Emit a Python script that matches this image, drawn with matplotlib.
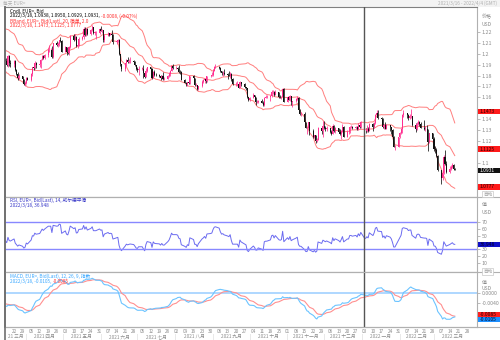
import numpy as np
import pandas as pd
import matplotlib
matplotlib.use('Agg')
import matplotlib.pyplot as plt
import matplotlib.dates as mdates
import matplotlib.transforms as mtransforms
from matplotlib.patches import Rectangle
from matplotlib.lines import Line2D

plt.rcParams['font.family'] = ['Noto Sans CJK SC', 'DejaVu Sans']

# EUR= 日收盘价, 以 1.0000 之后的点数记 (2250 -> 1.2250), 2021-01-04 .. 2022-03-18
close_pips = [
    # 2021 一月
    2250, 2295, 2325, 2270, 2220, 2150, 2210, 2160, 2155, 2080, 2075, 2130, 2105, 2165, 2170, 2140, 2160, 2110, 2120, 2135,
    # 2021 二月
    2060, 2040, 2035, 1965, 2045, 2050, 2120, 2120, 2130, 2120, 2130, 2105, 2040, 2090, 2120, 2155, 2150, 2165, 2175, 2075,
    # 2021 三月
    2050, 2090, 2065, 1965, 1915, 1847, 1900, 1928, 1985, 1952, 1930, 1900, 1977, 1915, 1905, 1935, 1850, 1815, 1780, 1795, 1765, 1720, 1730,
    # 2021 四月
    1780, 1762, 1812, 1875, 1870, 1915, 1900, 1910, 1945, 1980, 1965, 1985, 2035, 2035, 2035, 1970, 2095, 2085, 2090, 2125, 2120, 2020,
    # 2021 五月
    2060, 2015, 2005, 2065, 2165, 2130, 2150, 2075, 2080, 2140, 2150, 2225, 2175, 2225, 2180, 2215, 2250, 2195, 2195, 2195, 2225,
    # 2021 六月
    2210, 2215, 2125, 2165, 2190, 2175, 2180, 2175, 2105, 2120, 2125, 1995, 1905, 1860, 1915, 1940, 1925, 1930, 1935, 1925, 1895, 1858,
    # 2021 七月
    1850, 1865, 1865, 1825, 1790, 1845, 1875, 1860, 1775, 1835, 1810, 1805, 1800, 1780, 1795, 1770, 1770, 1800, 1815, 1845, 1885, 1870,
    # 2021 八月
    1870, 1865, 1835, 1830, 1760, 1735, 1720, 1740, 1730, 1795, 1775, 1710, 1710, 1675, 1700, 1745, 1755, 1770, 1750, 1795, 1800, 1805,
    # 2021 九月
    1845, 1875, 1880, 1870, 1840, 1820, 1825, 1815, 1805, 1800, 1815, 1765, 1725, 1725, 1725, 1690, 1740, 1720, 1695, 1685, 1600, 1580,
    # 2021 十月
    1595, 1620, 1600, 1555, 1555, 1570, 1550, 1530, 1595, 1600, 1600, 1610, 1645, 1650, 1625, 1645, 1605, 1600, 1605, 1680, 1560,
    # 2021 十一月
    1605, 1580, 1615, 1555, 1565, 1585, 1595, 1480, 1445, 1445, 1370, 1320, 1320, 1370, 1290, 1235, 1250, 1200, 1210, 1320, 1290, 1335,
    # 2021 十二月
    1320, 1305, 1315, 1285, 1265, 1340, 1290, 1315, 1285, 1260, 1290, 1330, 1240, 1280, 1280, 1330, 1330, 1320, 1330, 1310, 1350, 1325, 1370,
    # 2022 一月
    1295, 1290, 1310, 1295, 1360, 1325, 1365, 1440, 1455, 1410, 1405, 1325, 1345, 1310, 1345, 1325, 1300, 1240, 1145, 1145, 1235,
    # 2022 二月
    1270, 1305, 1440, 1455, 1440, 1415, 1425, 1425, 1350, 1305, 1360, 1370, 1360, 1320, 1310, 1310, 1305, 1190, 1270, 1220,
    # 2022 三月
    1125, 1120, 1065, 930, 855, 905, 1050, 985, 915, 945, 960, 975, 938, 931,
]

# 图上可见的蜡烛 (2021-03-15 起) 的最高价与最低价
high_pips = [
    1960, 1950, 1990, 1990, 1940, 1945, 1945, 1860, 1830, 1815, 1800, 1770, 1750,
    1790, 1790, 1820, 1880, 1900, 1930, 1925, 1915, 1950, 1990, 1990, 1995, 2050, 2080, 2050, 2070, 2100, 2115, 2105, 2130, 2150, 2130,
    2075, 2065, 2035, 2070, 2175, 2185, 2180, 2160, 2100, 2150, 2165, 2245, 2245, 2235, 2240, 2225, 2265, 2250, 2210, 2210, 2235,
    2255, 2230, 2220, 2185, 2200, 2195, 2195, 2220, 2180, 2125, 2135, 2140, 2000, 1910, 1920, 1955, 1970, 1950, 1970, 1945, 1935, 1900,
    1880, 1890, 1880, 1895, 1830, 1870, 1880, 1880, 1870, 1840, 1850, 1820, 1815, 1810, 1805, 1830, 1785, 1810, 1830, 1850, 1890, 1910,
    1890, 1880, 1900, 1850, 1840, 1765, 1745, 1745, 1755, 1800, 1805, 1780, 1735, 1715, 1705, 1755, 1765, 1775, 1780, 1800, 1810, 1830,
    1857, 1885, 1910, 1885, 1875, 1845, 1845, 1865, 1820, 1845, 1830, 1820, 1775, 1745, 1750, 1730, 1750, 1745, 1735, 1695, 1690, 1605,
    1605, 1640, 1625, 1600, 1575, 1580, 1585, 1565, 1600, 1625, 1620, 1625, 1665, 1665, 1660, 1665, 1650, 1620, 1610, 1690, 1690,
    1615, 1610, 1620, 1615, 1570, 1590, 1610, 1605, 1490, 1465, 1465, 1375, 1325, 1375, 1375, 1305, 1255, 1255, 1225, 1330, 1320, 1385,
    1380, 1335, 1335, 1320, 1300, 1355, 1345, 1330, 1320, 1305, 1300, 1360, 1335, 1300, 1300, 1335, 1345, 1340, 1335, 1335, 1365, 1365, 1385,
    1385, 1320, 1345, 1330, 1365, 1365, 1370, 1445, 1480, 1485, 1420, 1410, 1355, 1370, 1360, 1350, 1330, 1310, 1245, 1160, 1240,
    1285, 1315, 1450, 1485, 1460, 1450, 1445, 1495, 1430, 1365, 1370, 1395, 1385, 1375, 1395, 1340, 1345, 1310, 1275, 1275,
    1235, 1150, 1135, 1070, 935, 970, 1070, 1120, 1020, 970, 980, 1000, 985, 950,
]
low_pips = [
    1910, 1890, 1880, 1890, 1875, 1880, 1840, 1810, 1760, 1770, 1760, 1710, 1705,
    1725, 1755, 1750, 1800, 1855, 1860, 1870, 1875, 1870, 1940, 1955, 1955, 1975, 2020, 2010, 1960, 1960, 2070, 2065, 2070, 2110, 2015,
    2015, 1990, 1995, 1985, 2050, 2120, 2125, 2065, 2050, 2075, 2130, 2140, 2165, 2160, 2170, 2175, 2205, 2180, 2175, 2135, 2185,
    2205, 2195, 2105, 2105, 2160, 2165, 2170, 2165, 2090, 2090, 2105, 1990, 1890, 1845, 1845, 1890, 1915, 1915, 1915, 1905, 1885, 1855,
    1835, 1805, 1855, 1780, 1780, 1785, 1835, 1840, 1770, 1775, 1800, 1795, 1785, 1755, 1765, 1760, 1760, 1765, 1785, 1795, 1840, 1860,
    1860, 1850, 1825, 1815, 1755, 1730, 1705, 1705, 1725, 1725, 1765, 1705, 1700, 1665, 1665, 1695, 1730, 1735, 1735, 1745, 1785, 1795,
    1800, 1840, 1870, 1860, 1835, 1805, 1800, 1810, 1770, 1795, 1780, 1750, 1715, 1705, 1715, 1685, 1685, 1705, 1685, 1670, 1595, 1565,
    1565, 1590, 1585, 1530, 1545, 1550, 1545, 1525, 1525, 1590, 1590, 1570, 1605, 1630, 1615, 1620, 1590, 1590, 1585, 1595, 1555,
    1555, 1575, 1570, 1530, 1515, 1555, 1575, 1470, 1440, 1430, 1365, 1315, 1265, 1315, 1250, 1230, 1225, 1185, 1190, 1205, 1260, 1235,
    1310, 1295, 1290, 1275, 1255, 1260, 1280, 1275, 1280, 1250, 1220, 1285, 1235, 1235, 1265, 1270, 1315, 1310, 1310, 1300, 1300, 1315, 1320,
    1285, 1275, 1285, 1285, 1290, 1290, 1315, 1360, 1430, 1400, 1395, 1320, 1305, 1305, 1305, 1295, 1260, 1235, 1140, 1120, 1140,
    1230, 1265, 1275, 1420, 1410, 1395, 1405, 1410, 1340, 1280, 1300, 1345, 1340, 1315, 1300, 1290, 1300, 1105, 1185, 1165,
    1110, 1090, 1055, 925, 805, 840, 900, 975, 905, 910, 930, 950, 930, 929,
]
last_open = 1.0938

price_ticks = [1.10, 1.12, 1.13, 1.14, 1.16, 1.17, 1.18, 1.19, 1.20, 1.21, 1.22]
rsi_ticks = [10, 20, 30, 50, 60, 70]
macd_ticks = [0.0, -0.004]
month_names = ['一月', '二月', '三月', '四月', '五月', '六月', '七月', '八月', '九月', '十月', '十一月', '十二月']

header_candle = "2022/3/18, 1.0938, 1.0950, 1.0929, 1.0931, "
header_change = "-0.0008, (-0.07%)"
bb_labels = ["1.1473", "1.1125", "1.0777"]
last_close_label = "1.0931"
rsi_last = "36.948"
macd_last, signal_last = "-0.0105", "-0.0085"

UP, DOWN = '#ff2d8f', '#111111'
BB_COL = '#ff7f7f'
RSI_COL = '#6b6bf0'
MACD_COL = '#6cc4ff'
SIG_COL = '#ff9090'
GRAY = '#8c8c8c'

W, H = 500, 340
fig = plt.figure(figsize=(5, 3.4), dpi=100)


def fx(px):
    return px / W


def fy(py):
    return 1 - py / H


L, R = 5, 477
TOP, Y1, Y2, BOT = 7, 197, 272, 327
ax = fig.add_axes([fx(L), fy(Y1), fx(R - L), fy(TOP) - fy(Y1)])
ax_rsi = fig.add_axes([fx(L), fy(Y2), fx(R - L), fy(Y1) - fy(Y2)], sharex=ax)
ax_macd = fig.add_axes([fx(L), fy(BOT), fx(R - L), fy(Y2) - fy(BOT)], sharex=ax)

dates = pd.bdate_range('2021-01-04', '2022-03-18')
close = pd.Series(1 + np.array(close_pips) / 10000.0, index=dates)
vis = dates >= pd.Timestamp('2021-03-15')
xd = mdates.date2num(dates[vis])

c = close[vis].values
o = close.shift(1)[vis].values
o[-1] = last_open
h = 1 + np.array(high_pips) / 10000.0
l = 1 + np.array(low_pips) / 10000.0
col = np.where(c >= o, UP, DOWN)

# 蜡烛
ax.vlines(xd, l, h, colors=col, lw=0.55, zorder=3)
ax.bar(xd, np.maximum(np.abs(c - o), 0.0002), bottom=np.minimum(o, c), width=0.85,
       color=col, lw=0, zorder=4)

# 布林带
mid = close.rolling(20).mean()
sd = close.rolling(20).std(ddof=0)
for s in (mid + 2 * sd, mid, mid - 2 * sd):
    ax.plot(xd, s[vis].values, color=BB_COL, lw=0.7, zorder=2)

# RSI (威尔德平滑)
d = close.diff()
gain = d.clip(lower=0).ewm(alpha=1 / 14, adjust=False).mean()
loss = (-d.clip(upper=0)).ewm(alpha=1 / 14, adjust=False).mean()
rsi = 100 - 100 / (1 + gain / loss)
ax_rsi.plot(xd, rsi[vis].values, color=RSI_COL, lw=0.7)
for lev in (70, 30):
    ax_rsi.axhline(lev, color='#8888ff', lw=1.0)

# MACD
macd = close.ewm(span=12, adjust=False).mean() - close.ewm(span=26, adjust=False).mean()
signal = macd.ewm(span=9, adjust=False).mean()
ax_macd.axhline(0, color='#a8d4ff', lw=1.3)
ax_macd.plot(xd, signal[vis].values, color=SIG_COL, lw=0.8)
ax_macd.plot(xd, macd[vis].values, color=MACD_COL, lw=0.8)

# 坐标范围
x0 = mdates.date2num(pd.Timestamp('2021-03-14 14:00'))
x1 = mdates.date2num(pd.Timestamp('2022-04-05 05:00'))
ax.set_xlim(x0, x1)
ax.set_ylim(1.0685, 1.2430)
ax_rsi.set_ylim(-4, 107)
ax_macd.set_ylim(-0.0136, 0.0084)

ax.set_yticks(price_ticks)
ax.yaxis.set_major_formatter(plt.FuncFormatter(lambda v, p: '%g' % round(v, 2)))
ax_rsi.set_yticks(rsi_ticks)
ax_macd.set_yticks(macd_ticks)
ax_macd.yaxis.set_major_formatter(plt.FuncFormatter(lambda v, p: '%.4f' % v))

cross = mdates.date2num(pd.Timestamp('2022-01-03'))
for a in (ax, ax_rsi, ax_macd):
    a.yaxis.tick_right()
    a.tick_params(axis='y', length=2, width=0.5, colors='#a0a0a0', labelcolor=GRAY,
                  labelsize=3.8, pad=1.5)
    a.tick_params(axis='x', bottom=False, labelbottom=False)
    for sp in a.spines.values():
        sp.set_color('#b0b0b0')
        sp.set_linewidth(0.8)
    a.spines['left'].set_color('#707070')
    a.spines['left'].set_linewidth(1.2)
    a.axvline(cross, color='#555555', lw=1.0, zorder=6)
ax.spines['top'].set_color('#808080')

# 顶部标题栏
fig.add_artist(Rectangle((0, fy(TOP)), 1, TOP / H, transform=fig.transFigure,
                         fc='#f3f3f3', ec='none', zorder=0))
fig.text(fx(3), fy(3.5), '每天 EUR=', fontsize=3.4, color='#b0b0b0', va='center')
fig.text(fx(497), fy(3.5), '2021/3/16 - 2022/4/4 (GMT)', fontsize=3.4, color='#b0b0b0',
         va='center', ha='right')

# 分隔线
for yy in (Y1, Y2, BOT):
    fig.add_artist(Line2D([fx(L), 1], [fy(yy), fy(yy)], transform=fig.transFigure,
                          color='#b0b0b0', lw=0.8))
fig.add_artist(Line2D([fx(L), fx(L)], [0, fy(TOP)], transform=fig.transFigure,
                      color='#707070', lw=1.2))

# 面板说明文字
fs = 3.4
fig.text(fx(10), fy(11), 'Cndl, EUR=, Bid', fontsize=fs, color='black', va='center')
t = fig.text(fx(10), fy(16), header_candle, fontsize=fs, color='black', va='center')
fig.text(fx(10), fy(21), 'BBand, EUR=, Bid(Last), 20, 简单, 2.0', fontsize=fs,
         color='#ff3030', va='center')
fig.text(fx(10), fy(26), '2022/3/18, ' + ', '.join(bb_labels), fontsize=fs,
         color='#ff3030', va='center')
fig.text(fx(10), fy(200.5), 'RSI, EUR=, Bid(Last), 14, 威尔德平滑', fontsize=fs,
         color='#3838c8', va='center')
fig.text(fx(10), fy(205.5), '2022/3/18, ' + rsi_last, fontsize=fs, color='#3838c8', va='center')
fig.text(fx(10), fy(276.5), 'MACD, EUR=, Bid(Last), 12, 26, 9, 指数', fontsize=fs,
         color='#3aa8ff', va='center')
t2 = fig.text(fx(10), fy(281.5), '2022/3/18, ' + macd_last + ', ', fontsize=fs,
              color='#3aa8ff', va='center')
fig.canvas.draw()
rend = fig.canvas.get_renderer()
fig.text(t.get_window_extent(rend).x1 / W, fy(16), header_change, fontsize=fs,
         color='#ff3030', va='center')
fig.text(t2.get_window_extent(rend).x1 / W, fy(281.5), signal_last, fontsize=fs,
         color='#ff3030', va='center')

# 右侧轴标题
for y_a, y_b, lab in ((17, 24, '价格'), (205, 212, '值'), (283, 289, '值')):
    fig.text(fx(482), fy(y_a), lab, fontsize=3.6, color=GRAY, va='center')
    fig.text(fx(482), fy(y_b), 'USD', fontsize=3.6, color=GRAY, va='center')
for y_a in (194, 271.5):
    fig.text(fx(483), fy(y_a), '自动', fontsize=3.3, color='#a0a0a0', va='center',
             bbox=dict(boxstyle='square,pad=0.2', fc='white', ec='#c8c8c8', lw=0.5))


def value_box(axis, val, text, fc, tc):
    py = axis.transData.transform((0, val))[1]
    fig.add_artist(Rectangle((fx(R + 1), (py - 2.7) / H), fx(W - R - 1), 5.4 / H,
                             transform=fig.transFigure, fc=fc, ec='none', zorder=5))
    fig.text(fx(R + 3), py / H, text, fontsize=3.6, color=tc, va='center', zorder=6)


value_box(ax, float(bb_labels[0]), bb_labels[0], '#ff1a1a', '#2a0000')
value_box(ax, float(bb_labels[1]), bb_labels[1], '#ff1a1a', '#2a0000')
value_box(ax, float(bb_labels[2]), bb_labels[2], '#ff1a1a', '#2a0000')
value_box(ax, float(last_close_label), last_close_label, '#111111', 'white')
value_box(ax_rsi, float(rsi_last), rsi_last, '#1010c8', '#000030')
value_box(ax_macd, float(signal_last), signal_last, '#ff2020', '#2a0000')
value_box(ax_macd, float(macd_last), macd_last, '#1e90ff', '#001030')

# 日期轴: 周一日期 与 月份
tr = mtransforms.blended_transform_factory(ax_macd.transData, fig.transFigure)
for day in pd.date_range('2021-03-22', '2022-03-28', freq='W-MON'):
    fig.text(mdates.date2num(day), fy(331.5), day.strftime('%d'), transform=tr,
             fontsize=3.4, color=GRAY, ha='center', va='center')
months = pd.date_range('2021-03-01', '2022-03-01', freq='MS')
for m in months:
    a0 = max(mdates.date2num(m), x0)
    a1 = min(mdates.date2num(m + pd.offsets.MonthBegin(1)), x1)
    name = month_names[m.month - 1]
    lab = ('21 ' + name) if m == months[0] else '%d %s' % (m.year, name)
    fig.text((a0 + a1) / 2, fy(336.5), lab, transform=tr, fontsize=3.4, color=GRAY,
             ha='center', va='center')
    if m != months[0]:
        fig.text(mdates.date2num(m), fy(336.5), '|', transform=tr, fontsize=3.4,
                 color='#b0b0b0', ha='center', va='center')

fig.savefig('out.png', dpi=100)
